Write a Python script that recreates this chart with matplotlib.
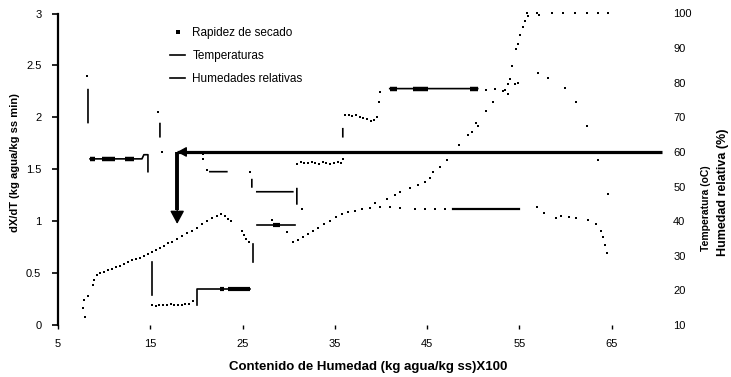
import numpy as np
import matplotlib
matplotlib.use("Agg")
import matplotlib.pyplot as plt
from matplotlib.lines import Line2D

plt.rcParams['font.family'] = ['Liberation Sans', 'DejaVu Sans']

nan = np.nan

# Axis ticks
x_ticks = [5, 15, 25, 35, 45, 55, 65]
y_ticks = [0, 0.5, 1, 1.5, 2, 2.5, 3]
y_tick_labels = ['0', '0.5', '1', '1.5', '2', '2.5', '3']
y2_ticks = [10, 20, 30, 40, 50, 60, 70, 80, 90, 100]

# Rapidez de secado (kg agua/kg ss min) vs contenido de humedad
x_rapidez = [7.71, 7.82, 7.92, 8.25, 8.79, 8.90, 9.22, 9.55, 9.98, 10.42, 10.85,
             11.28, 11.72, 12.15, 12.58, 13.02, 13.45, 13.88, 14.31, 14.75, 15.18,
             15.61, 16.05, 16.48, 16.91, 17.35, 17.89, 18.43, 18.97, 19.51, 20.06,
             20.60, 21.14, 21.68, 22.22, 22.65, 23.09, 23.41, 23.74, 24.93, 25.15,
             25.36, 25.69,
             30.45, 30.99, 31.54, 32.08, 32.62, 33.16, 33.81, 34.46, 35.11, 35.76,
             36.41, 37.17, 37.93, 38.79, 39.88, 40.96, 42.04, 43.67, 44.75, 45.83,
             46.92,
             56.88, 57.64, 58.94, 59.48, 60.35, 61.10, 62.40, 63.27, 63.81, 64.03,
             64.24, 64.46]
rapidez = [0.164, 0.241, 0.077, 0.280, 0.386, 0.434, 0.482, 0.502, 0.511, 0.531, 0.540,
           0.559, 0.569, 0.588, 0.608, 0.627, 0.637, 0.646, 0.666, 0.685, 0.704,
           0.723, 0.743, 0.762, 0.791, 0.801, 0.830, 0.859, 0.887, 0.907, 0.936,
           0.974, 1.003, 1.032, 1.051, 1.071, 1.051, 1.022, 1.003, 0.907, 0.868,
           0.830, 0.801,
           0.801, 0.820, 0.849, 0.878, 0.907, 0.936, 0.974, 1.003, 1.042, 1.071,
           1.090, 1.100, 1.119, 1.129, 1.138, 1.138, 1.129, 1.119, 1.119, 1.119,
           1.119,
           1.138, 1.080, 1.032, 1.051, 1.042, 1.032, 1.013, 0.974, 0.907, 0.849,
           0.772, 0.695]
# constant-rate stretch
x_meseta = [47.78, 54.93]
rapidez_meseta = [1.119, 1.119]

# Humedad relativa del aire (%)
x_hr = [39.33, 40.63, 41.50, 42.04, 43.13, 43.99, 44.75, 45.29, 45.62, 46.37,
        47.13, 48.43, 49.41, 49.84, 50.27, 50.49, 51.36, 52.11, 53.41, 53.74,
        53.96, 54.17, 54.61, 54.82, 55.04, 55.36, 55.58, 55.80, 55.91, 56.88,
        57.10, 58.50, 59.70, 61.00, 62.30, 63.49, 64.57]
hr = [45.3, 46.5, 47.6, 48.5, 49.7, 50.5, 51.4, 52.5, 54.3, 55.7,
      57.8, 62.1, 65.0, 65.9, 68.5, 67.6, 71.9, 74.5, 78.0, 76.6,
      81.2, 84.7, 89.6, 91.3, 93.9, 96.0, 97.7, 100.0, 99.4, 100.0,
      99.7, 100.0, 100.0, 100.0, 100.0, 100.0, 100.0]

# Humedades relativas por etapa (%), tramos separados por nan
x_hr_etapa = [15.18, 15.18, nan, 20.06, 20.06, 25.80, nan, 26.12, 26.12, nan, 26.55, 30.67]
hr_etapa = [28.2, 18.7, nan, 15.9, 20.4, 20.4, nan, 33.4, 28.2, nan, 38.9, 38.9]
x_hr_etapa_pts = [15.2, 15.6, 16.0, 16.4, 16.8, 17.2, 17.6, 18.0, 18.4, 18.8, 19.2,
                  19.6, 28.2, 29.80]
hr_etapa_pts = [15.8, 15.6, 15.9, 15.7, 15.8, 16.1, 15.7, 15.9, 15.8, 16.0, 16.2,
                16.8, 40.4, 36.9]
hr_gruesos_x0 = [22.55, 23.41, 28.29]
hr_gruesos_x1 = [23.00, 25.80, 29.04]
hr_gruesos_y = [20.4, 20.4, 38.9]

# Temperaturas (oC), tramos separados por nan
x_temp = [8.25, 8.25, nan, 8.47, 14.10, 14.31, 14.75, 14.75, nan, 16.05, 16.05, nan,
          21.46, 23.30, nan, 26.01, 26.01, nan, 26.55, 30.45, nan, 30.89, 30.89, nan,
          35.87, 35.87, nan, 40.96, 50.49]
temp = [78.0, 68.5, nan, 58.0, 58.0, 59.2, 59.2, 54.3, nan, 68.2, 64.4, nan,
        54.3, 54.3, nan, 52.0, 49.9, nan, 48.5, 48.5, nan, 49.4, 45.0, nan,
        66.7, 64.4, nan, 78.3, 78.3]
x_temp_pts = [8.14, 15.83, 16.26, 20.71, 20.71, 21.14, 25.80, 31.43,
              30.9, 31.3, 31.7, 32.1, 32.5, 32.9, 33.3, 33.7, 34.1, 34.5, 34.9, 35.3, 35.7,
              35.87,
              36.1, 36.5, 36.9, 37.3, 37.7, 38.1, 38.5, 38.9, 39.3, 39.6,
              39.77, 39.88,
              51.36, 52.33, 53.20, 53.74, 54.50, 54.82, 56.99, 58.07, 59.91, 61.10,
              62.30, 63.49, 64.57]
temp_pts = [81.8, 71.4, 60.1, 59.5, 58.0, 54.9, 54.3, 43.6,
            56.6, 57.1, 56.9, 56.7, 57.0, 56.8, 56.6, 57.0, 56.9, 56.6, 56.8, 57.0, 56.9,
            58.0,
            70.8, 70.8, 70.5, 70.6, 70.2, 69.8, 69.5, 68.9, 69.3, 70.0,
            74.5, 77.4,
            78.0, 78.3, 77.7, 79.5, 79.5, 80.0, 82.9, 81.5, 78.6, 74.3,
            67.6, 57.8, 47.9]
temp_gruesos_x0 = [8.47, 9.76, 12.26, 40.96, 43.45, 49.62]
temp_gruesos_x1 = [9.01, 11.17, 13.23, 41.70, 45.07, 50.49]
temp_gruesos_y = [58.0, 58.0, 58.0, 78.3, 78.3, 78.3]

# Temperatura de referencia de 60 oC y punto senalado sobre la curva
x_flecha = [70.47, 17.92, 17.92]
t_flecha = [60.0, 60.0, 39.2]

W, H = 731, 377
fig = plt.figure(figsize=(W / 100, H / 100), dpi=100)
ax = fig.add_axes([58 / W, 1 - 325 / H, (662 - 58) / W, (325 - 13.5) / H])
ax.set_xlim(5, 70.47)
ax.set_ylim(0, 3)
ax2 = ax.twinx()
ax2.set_ylim(10, 100)

for s in ['top', 'right', 'bottom']:
    ax.spines[s].set_visible(False)
ax.spines['left'].set_linewidth(1.6)
for s in ax2.spines.values():
    s.set_visible(False)

ax.set_xticks(x_ticks)
ax.set_xticklabels([str(v) for v in x_ticks])
ax.set_yticks(y_ticks)
ax.set_yticklabels(y_tick_labels)
ax.tick_params(axis='x', direction='out', length=3, width=1, pad=7, labelsize=8)
ax.tick_params(axis='y', direction='out', length=4, width=1.2, pad=8, labelsize=8)
ax2.set_yticks(y2_ticks)
ax2.set_yticklabels([str(v) for v in y2_ticks])
ax2.tick_params(axis='y', length=0, pad=8, labelsize=8)

mk = dict(ls='none', marker='s', ms=2.0, mew=0, color='k')

# drying rate
ax.plot(x_rapidez, rapidez, **mk)
ax.plot(x_meseta, rapidez_meseta, color='k', lw=1.6)

# relative humidity
ax2.plot(x_hr, hr, clip_on=False, **mk)
ln_hr, = ax2.plot(x_hr_etapa, hr_etapa, color='k', lw=1.2)
ax2.plot(x_hr_etapa_pts, hr_etapa_pts, **mk)
ax2.hlines(hr_gruesos_y, hr_gruesos_x0, hr_gruesos_x1, color='k', lw=3)

# temperatures
ln_t, = ax2.plot(x_temp, temp, color='k', lw=1.2)
ax2.plot(x_temp_pts, temp_pts, **mk)
ax2.hlines(temp_gruesos_y, temp_gruesos_x0, temp_gruesos_x1, color='k', lw=3.2)

# 60 oC reference line with bent arrow
ax2.plot(x_flecha[:2], t_flecha[:2], color='k', lw=2.3, clip_on=False,
         solid_capstyle='butt')
ax2.plot([x_flecha[1], x_flecha[2]], [t_flecha[1], t_flecha[2] + 4], color='k',
         lw=2.8, solid_capstyle='butt')
ax2.annotate('', xy=(x_flecha[2], t_flecha[2]), xytext=(x_flecha[2], t_flecha[2] + 4.5),
             arrowprops=dict(arrowstyle='-|>,head_length=0.8,head_width=0.43',
                             color='k', lw=1, shrinkA=0, shrinkB=0))
ax2.annotate('', xy=(x_flecha[1], t_flecha[1]), xytext=(x_flecha[1] + 1.2, t_flecha[1]),
             arrowprops=dict(arrowstyle='-|>,head_length=0.55,head_width=0.3',
                             color='k', lw=1, shrinkA=0, shrinkB=0))

h_rap = Line2D([], [], ls='none', marker='s', ms=2.3, mew=0, color='k')
fig.legend([h_rap, ln_t, ln_hr], ['Rapidez de secado', 'Temperaturas', 'Humedades relativas'],
           loc='upper left', bbox_to_anchor=(170 / W, 1 - 27 / H), frameon=False,
           fontsize=8.5, handlelength=1.3, handletextpad=0.6, labelspacing=0.95,
           borderpad=0, borderaxespad=0)

fig.text(368 / W, 1 - 367 / H, 'Contenido de Humedad (kg agua/kg ss)X100',
         ha='center', va='center', fontsize=9.5, fontweight='bold')
fig.text(15 / W, 1 - 163 / H, 'dX/dT (kg agua/kg ss min)', rotation=90,
         ha='center', va='center', fontsize=8, fontweight='bold')
fig.text(706 / W, 1 - 208 / H, 'Temperatura (oC)', rotation=90,
         ha='center', va='center', fontsize=7.5, fontweight='bold')
fig.text(723 / W, 1 - 192 / H, 'Humedad relativa (%)', rotation=90,
         ha='center', va='center', fontsize=9, fontweight='bold')

fig.savefig('out.png', dpi=100, facecolor='white')
